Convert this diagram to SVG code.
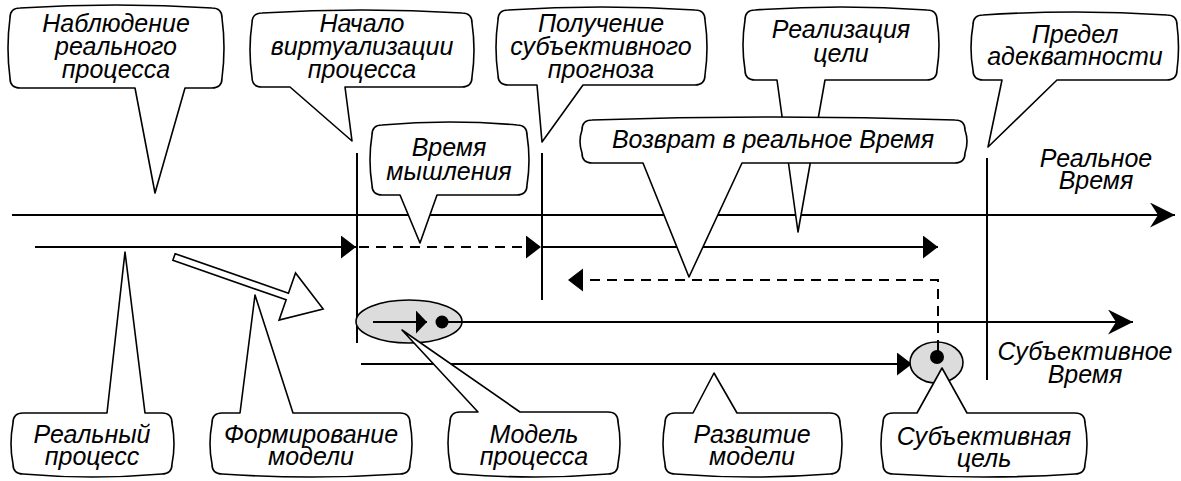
<svg xmlns="http://www.w3.org/2000/svg" width="1181" height="481" viewBox="0 0 1181 481">
  <style>
    .bg { fill: #ffffff; }
    .axis { fill: none; stroke: #000; stroke-width: 2; }
    .dash { fill: none; stroke: #000; stroke-width: 2; stroke-dasharray: 10 7; }
    .vline { fill: none; stroke: #000; stroke-width: 2; }
    .callout { fill: #ffffff; stroke: #000; stroke-width: 1.6; stroke-linejoin: round; }
    .model { fill: #dcdcdc; stroke: #000; stroke-width: 1.6; }
    .dot { fill: #000; }
    .block { fill: #ffffff; stroke: #000; stroke-width: 1.6; stroke-linejoin: miter; }
    text { font-family: "Liberation Sans", Arial, "DejaVu Sans", sans-serif; font-style: italic; font-size: 25px; fill: #000; text-anchor: middle; }
  </style>
  <defs>
    <marker id="tri" markerUnits="userSpaceOnUse" markerWidth="16" markerHeight="24" refX="15" refY="11.5" orient="auto" viewBox="0 0 16 24">
      <path d="M0,0 L15,11.5 L0,23 Z" fill="#000"/>
    </marker>
    <marker id="triSmall" markerUnits="userSpaceOnUse" markerWidth="12" markerHeight="24" refX="11" refY="11.5" orient="auto" viewBox="0 0 12 24">
      <path d="M0,0 L11,11.5 L0,23 Z" fill="#000"/>
    </marker>
    <marker id="stealth" markerUnits="userSpaceOnUse" markerWidth="26" markerHeight="26" refX="25" refY="12.5" orient="auto" viewBox="0 0 26 26">
      <path d="M0,0 L25,12.5 L0,25 L8,12.5 Z" fill="#000"/>
    </marker>
  </defs>

  <rect class="bg" x="0" y="0" width="1181" height="481"/>

  <!-- time axes, process lines and markers -->
  <g id="connectors">
    <path class="axis" d="M12,215 L1175,215" marker-end="url(#stealth)"/>
    <path class="vline" d="M357,153 L357,343"/>
    <path class="vline" d="M542,153 L542,300"/>
    <path class="vline" d="M987,158 L987,380"/>
    <path class="axis" d="M35,247 L356,247" marker-end="url(#tri)"/>
    <path class="dash" d="M359,247 L541,247" marker-end="url(#tri)"/>
    <path class="axis" d="M542,247 L938,247" marker-end="url(#tri)"/>
    <path class="dash" d="M938,350 L938,280 L568,280" marker-end="url(#tri)"/>
    <path class="axis" d="M442,322 L1133,322" marker-end="url(#stealth)"/>
    <path class="axis" d="M361,364 L912,364" marker-end="url(#tri)"/>
    <polygon class="block" transform="translate(174,257) rotate(19.24)" points="0,-3.5 120,-3.5 120,-25 158,0 120,25 120,3.5 0,3.5"/>
  </g>

  <!-- process model -->
  <g id="model-process-shape">
    <ellipse class="model" cx="409" cy="321.5" rx="53" ry="21.5"/>
    <path class="axis" d="M373,322 L427,322" marker-end="url(#triSmall)"/>
    <path class="axis" d="M442,322 L462,322"/>
    <circle class="dot" cx="442" cy="322" r="6.5"/>
  </g>

  <!-- subjective goal -->
  <g id="goal-shape">
    <ellipse class="model" cx="936.5" cy="362.5" rx="26.5" ry="20.5"/>
    <path class="dash" d="M938,342 L938,352"/>
    <circle class="dot" cx="937" cy="357" r="7"/>
  </g>

  <!-- upper callouts -->
  <g id="observation">
    <path class="callout" d="M20,8 Q116,2 212,8 Q222,8 222,18 Q226,48 222,78 Q222,88 212,88 L185,88 L155,193 L135,88 L20,88 Q10,88 10,78 Q6,48 10,18 Q10,8 20,8 Z"/>
    <text x="116" y="32">Наблюдение</text>
    <text x="116" y="55">реального</text>
    <text x="116" y="78">процесса</text>
  </g>

  <g id="virtualization-start">
    <path class="callout" d="M262,13 Q362,7 462,13 Q472,13 472,23 Q476,50 472,77 Q472,87 462,87 L345,87 L352,141 L290,87 L262,87 Q252,87 252,77 Q248,50 252,23 Q252,13 262,13 Z"/>
    <text x="362" y="32">Начало</text>
    <text x="362" y="55">виртуализации</text>
    <text x="362" y="78">процесса</text>
  </g>

  <g id="forecast">
    <path class="callout" d="M508,10 Q601.5,4 695,10 Q705,10 705,20 Q709,47.5 705,75 Q705,85 695,85 L583,85 L542,142 L537,85 L508,85 Q498,85 498,75 Q494,47.5 498,20 Q498,10 508,10 Z"/>
    <text x="601" y="32">Получение</text>
    <text x="601" y="55">субъективного</text>
    <text x="601" y="78">прогноза</text>
  </g>

  <g id="goal-realization">
    <path class="callout" d="M755,10 Q841,4 927,10 Q937,10 937,20 Q941,45 937,70 Q937,80 927,80 L825,80 L798,232 L777,80 L755,80 Q745,80 745,70 Q741,45 745,20 Q745,10 755,10 Z"/>
    <text x="841" y="38">Реализация</text>
    <text x="841" y="62">цели</text>
  </g>

  <g id="adequacy-limit">
    <path class="callout" d="M983,15 Q1075,9 1167,15 Q1177,15 1177,25 Q1180,47.5 1177,70 Q1177,80 1167,80 L1057,80 L988,147 L1002,80 L983,80 Q973,80 973,70 Q969,47.5 973,25 Q973,15 983,15 Z"/>
    <text x="1075" y="43">Предел</text>
    <text x="1075" y="65">адекватности</text>
  </g>

  <g id="thinking-time">
    <path class="callout" d="M382,125 Q449.5,119 517,125 Q527,125 527,135 Q531,160 527,185 Q527,195 517,195 L437,195 L420,243 L400,195 L382,195 Q372,195 372,185 Q368,160 372,135 Q372,125 382,125 Z"/>
    <text x="449" y="156">Время</text>
    <text x="449" y="180">мышления</text>
  </g>

  <g id="return-to-real-time">
    <path class="callout" d="M592,120 Q773.5,114 955,120 Q965,120 965,130 Q969,141.5 965,153 Q965,163 955,163 L742,163 L689,277 L643,163 L592,163 Q582,163 582,153 Q578,141.5 582,130 Q582,120 592,120 Z"/>
    <text x="773" y="148">Возврат в реальное Время</text>
  </g>

  <!-- axis captions -->
  <g id="real-time-label">
    <text x="1096" y="167">Реальное</text>
    <text x="1096" y="189">Время</text>
  </g>

  <g id="subjective-time-label">
    <text x="1085" y="360">Субъективное</text>
    <text x="1085" y="383">Время</text>
  </g>

  <!-- lower callouts -->
  <g id="real-process">
    <path class="callout" d="M23,413 L107,413 L125,252 L145,413 L162,413 Q172,413 172,423 Q176,444 172,464 Q172,474 162,474 Q92.5,480 23,474 Q13,474 13,464 Q9,444 13,423 Q13,413 23,413 Z"/>
    <text x="92" y="443">Реальный</text>
    <text x="92" y="465">процесс</text>
  </g>

  <g id="model-forming">
    <path class="callout" d="M222,413 L240,413 L255,295 L293,413 L400,413 Q410,413 410,423 Q414,444 410,464 Q410,474 400,474 Q311,480 222,474 Q212,474 212,464 Q208,444 212,423 Q212,413 222,413 Z"/>
    <text x="311" y="443">Формирование</text>
    <text x="311" y="465">модели</text>
  </g>

  <g id="process-model">
    <path class="callout" d="M460,412 L478,412 L402,330 L520,412 L608,412 Q618,412 618,422 Q622,443 618,464 Q618,474 608,474 Q534,480 460,474 Q450,474 450,464 Q446,443 450,422 Q450,412 460,412 Z"/>
    <text x="534" y="443">Модель</text>
    <text x="534" y="465">процесса</text>
  </g>

  <g id="model-development">
    <path class="callout" d="M675,413 L693,413 L714,373 L737,413 L830,413 Q840,413 840,423 Q844,444 840,464 Q840,474 830,474 Q752.5,480 675,474 Q665,474 665,464 Q661,444 665,423 Q665,413 675,413 Z"/>
    <text x="752" y="443">Развитие</text>
    <text x="752" y="465">модели</text>
  </g>

  <g id="subjective-goal">
    <path class="callout" d="M893,413 L917,413 L942,368 L967,413 L1075,413 Q1085,413 1085,423 Q1089,444 1085,464 Q1085,474 1075,474 Q984,480 893,474 Q883,474 883,464 Q879,444 883,423 Q883,413 893,413 Z"/>
    <text x="984" y="445">Субъективная</text>
    <text x="984" y="467">цель</text>
  </g>
</svg>
